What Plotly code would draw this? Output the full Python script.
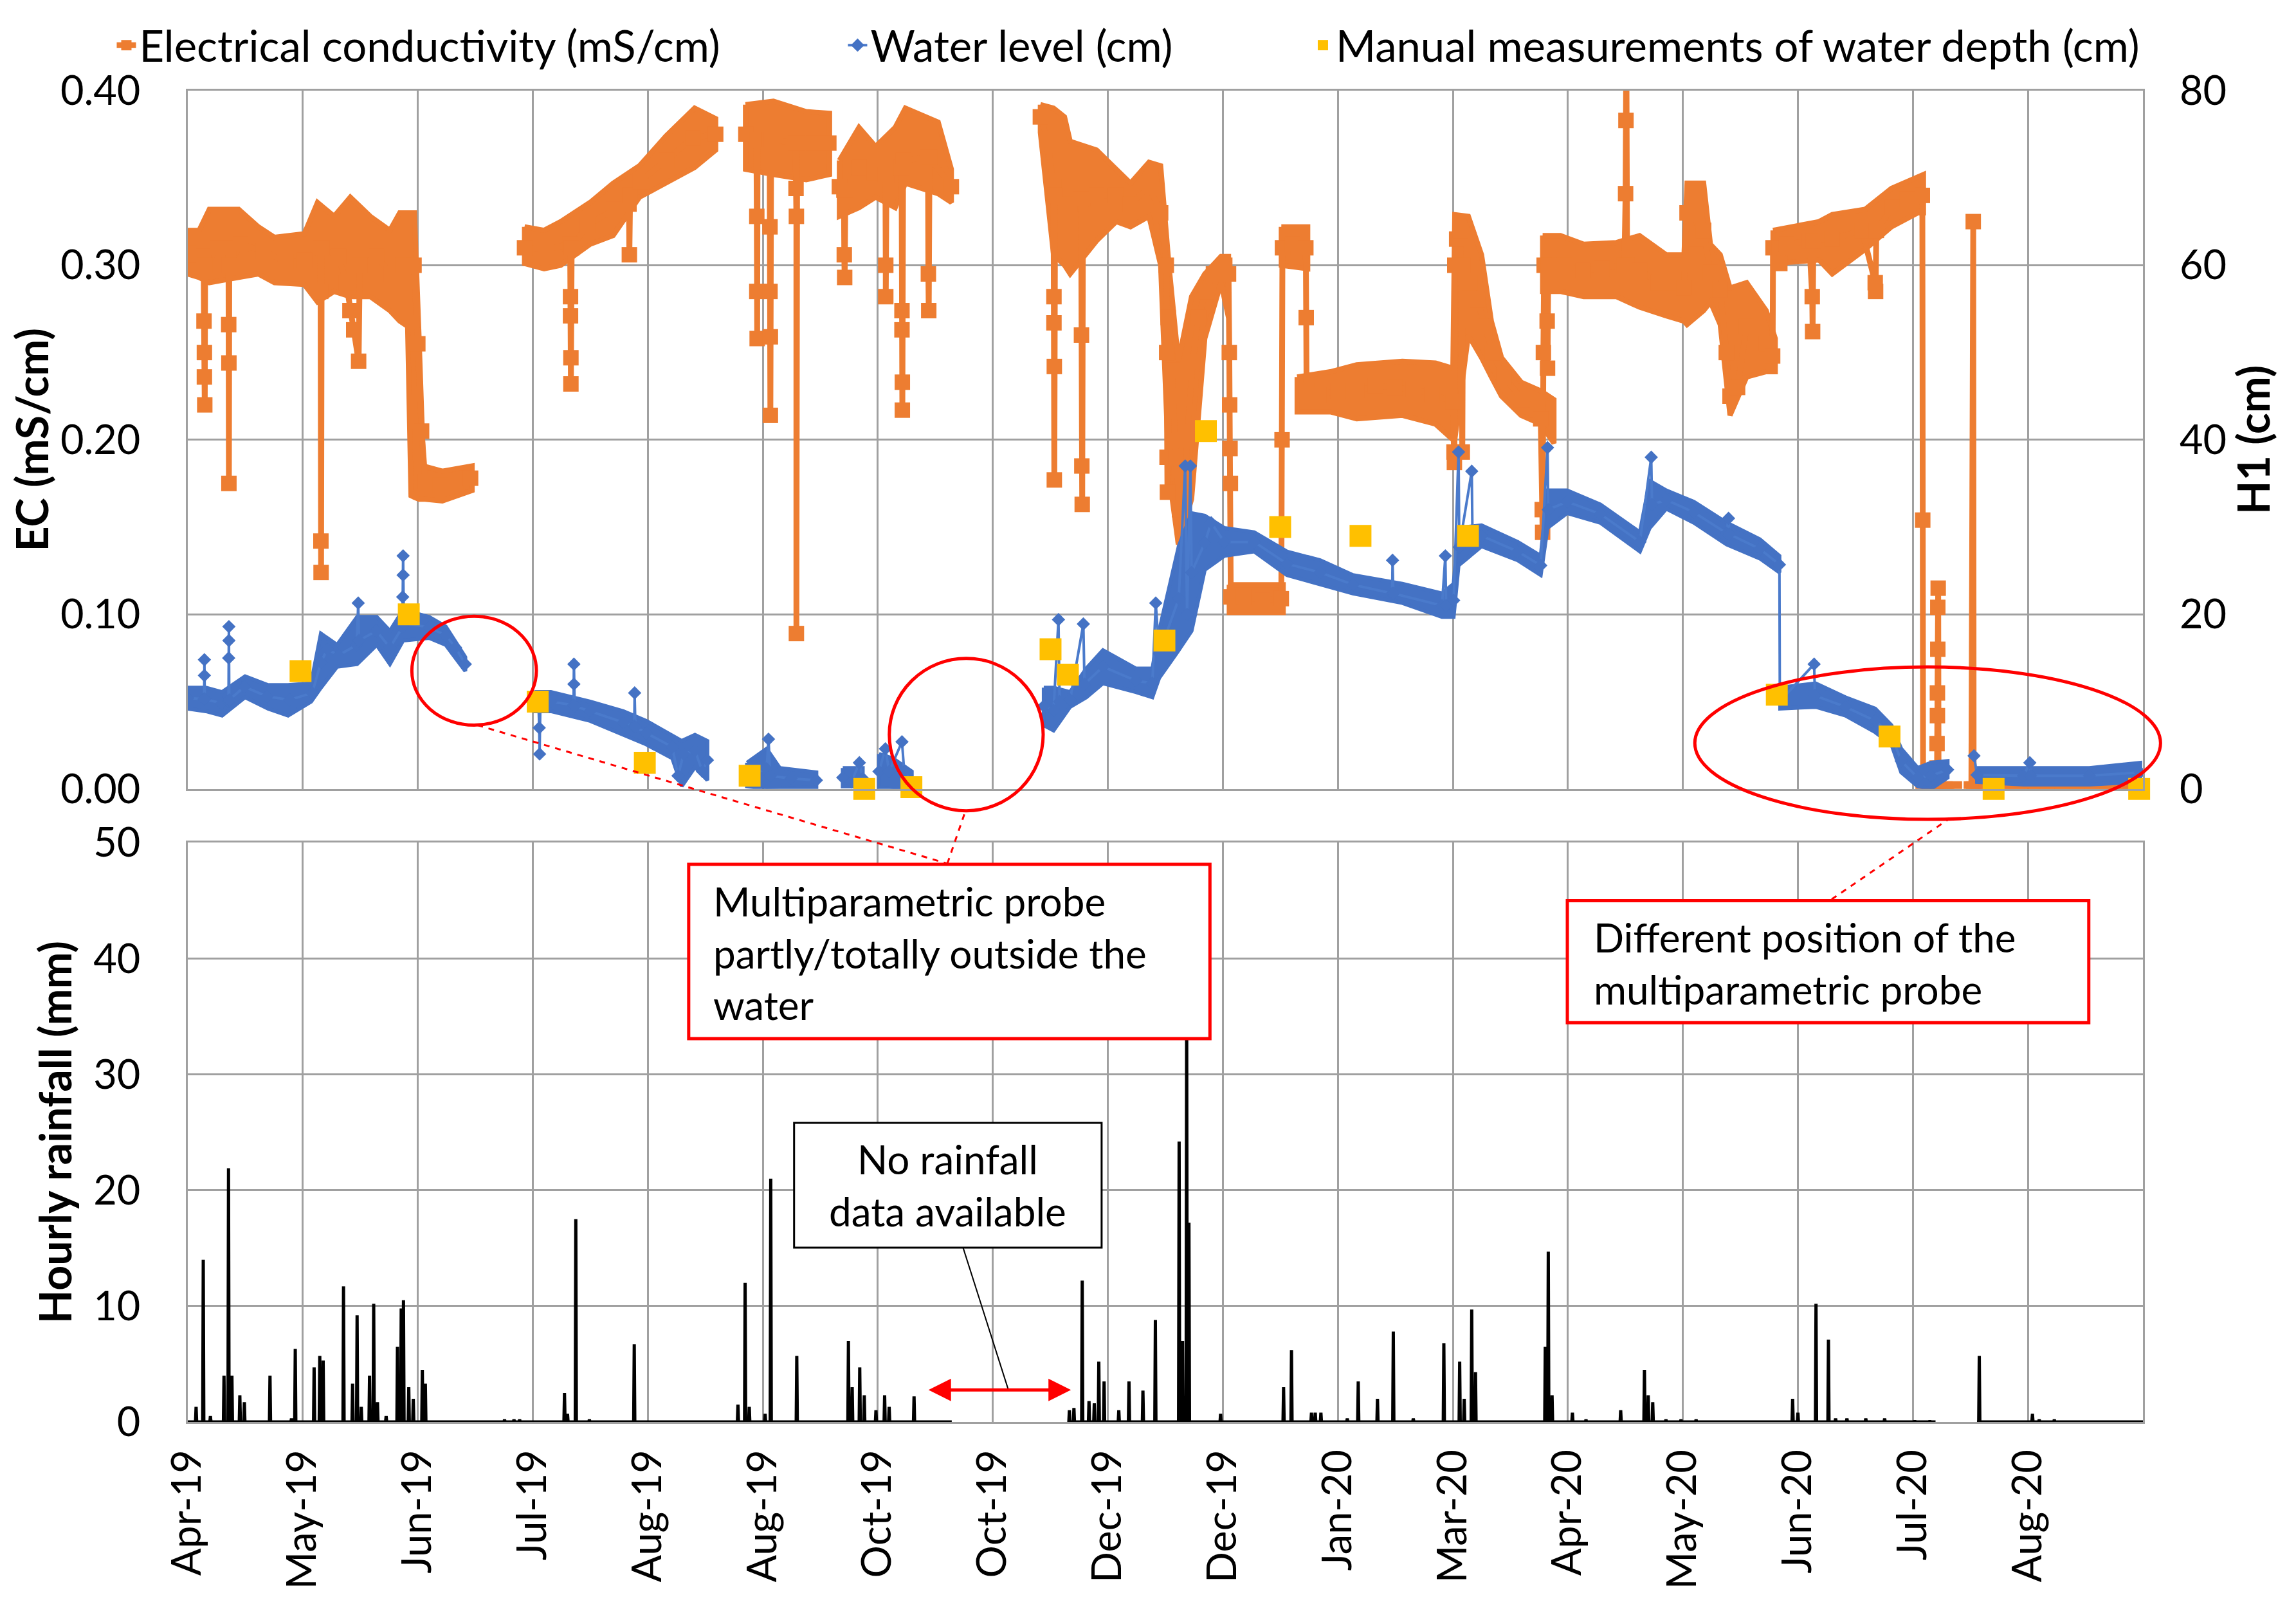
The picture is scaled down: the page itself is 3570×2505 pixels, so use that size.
import plotly.graph_objects as go
from datetime import datetime, timedelta

# day 0 of the record, and the spacing of the date labels on the axis (days)
START = datetime(2019, 4, 1)
STEP = 30.5

tick_labels = ["Apr-19", "May-19", "Jun-19", "Jul-19", "Aug-19", "Aug-19", "Oct-19", "Oct-19",
               "Dec-19", "Dec-19", "Jan-20", "Mar-20", "Apr-20", "May-20", "Jun-20", "Jul-20", "Aug-20"]

# ---- electrical conductivity (mS/cm), days since START ----
# spread of the noisy hourly signal: lower / upper envelope per stretch of record
ec_band_day = [0, 3.0, 5.7, 13.5, 18.7, 23, 30.9, 34.4, 38.8, 43.1, 48.4, 53.6, 56.2, 58.3, 59.2, 60.1, 61.3, 62.5, 67.5, 75.4, None,
               89.3, 94.5, 98.9, 106.7, 112.8, 119.8, 126.8, 134.4, 140, None,
               147.9, 155.3, 164, 170.2, None,
               172.8, 178, 182.4, 187.6, 190.3, 199, 202.5, None,
               226.1, 229.6, 232.5, 234, 241, 246.2, 250, 254.9, 258, 260.2, 262.7, 266.2, 269.7, 274, 276, None,
               276.2, 290.5, None,
               290, 297, None,
               294.2, 303, 310, 322.1, 330.9, 335.5, 336, 339.6, 343.1, 345.7, 348.4, 353.6, 358.8, 362.3, None,
               359.3, 364, 370.2, 378.9, 385, 392.1, 396.8, 397.6, 402, 403.8, 406.4, 409, 413.4, 418.6, 421, None,
               420.4, 432.6, 436.1, 444.8, 451.8, 458.8, 460.3]
ec_band_hi = [0.320, 0.320, 0.332, 0.332, 0.322, 0.316, 0.318, 0.336, 0.328, 0.339, 0.328, 0.320, 0.330, 0.330, 0.330, 0.330, 0.260, 0.185, 0.182, 0.185, None,
              0.322, 0.320, 0.325, 0.336, 0.347, 0.357, 0.374, 0.390, 0.384, None,
              0.392, 0.394, 0.388, 0.387, None,
              0.360, 0.379, 0.368, 0.379, 0.390, 0.382, 0.355, None,
              0.392, 0.390, 0.385, 0.371, 0.366, 0.355, 0.347, 0.359, 0.357, 0.300, 0.245, 0.282, 0.295, 0.305, 0.305, None,
              0.117, 0.117, None,
              0.322, 0.322, None,
              0.236, 0.239, 0.243, 0.245, 0.244, 0.241, 0.329, 0.328, 0.306, 0.268, 0.247, 0.233, 0.228, 0.223, None,
              0.317, 0.317, 0.312, 0.313, 0.317, 0.306, 0.306, 0.347, 0.347, 0.312, 0.306, 0.287, 0.290, 0.274, 0.258, None,
              0.320, 0.325, 0.329, 0.332, 0.344, 0.351, 0.352]
ec_band_lo = [0.295, 0.293, 0.290, 0.293, 0.295, 0.290, 0.289, 0.279, 0.285, 0.282, 0.282, 0.274, 0.268, 0.265, 0.168, 0.167, 0.166, 0.166, 0.165, 0.171, None,
              0.301, 0.298, 0.300, 0.312, 0.317, 0.339, 0.347, 0.356, 0.366, None,
              0.355, 0.352, 0.349, 0.352, None,
              0.328, 0.333, 0.339, 0.333, 0.347, 0.341, 0.336, None,
              0.376, 0.306, 0.300, 0.295, 0.314, 0.325, 0.322, 0.328, 0.300, 0.180, 0.140, 0.166, 0.258, 0.290, 0.270, None,
              0.101, 0.101, None,
              0.300, 0.298, None,
              0.216, 0.216, 0.212, 0.214, 0.209, 0.200, 0.200, 0.260, 0.247, 0.236, 0.225, 0.214, 0.209, 0.198, None,
              0.285, 0.285, 0.282, 0.282, 0.276, 0.271, 0.268, 0.266, 0.274, 0.279, 0.266, 0.214, 0.236, 0.239, 0.239, None,
              0.301, 0.303, 0.295, 0.309, 0.322, 0.330, 0.330]

# main path of the series with its short drops and peaks
ec_day = [0, 2, 4.2, 4.3, 4.4, 4.4, 4.5, 4.6, 8, 10.8, 10.85, 10.9, 10.9, 11.0, 14, 20, 26, 31,
          35.2, 35.25, 35.3, 35.35, 35.5, 40, 42, 43, 44, 45.3, 45.6, 50, 54, 57, 60, 61, 62, 63, 67, 71, 75, None,
          89.3, 95, 101.4, 101.5, 101.5, 101.6, 101.6, 101.8, 106, 113, 117, 117.1, 117.3, 120, 127, 134, 140, None,
          148, 150.8, 150.9, 150.9, 151, 151.1, 154.3, 154.4, 154.4, 154.5, 154.5, 154.7, 161.2, 161.3, 161.4, 161.4, 161.6, 166, 170, None,
          172.8, 174, 174.1, 174.2, 174.4, 178, 182, 185, 185.1, 185.1, 185.3, 189.3, 189.4, 189.4, 189.5, 189.5, 189.7, 196.3, 196.4, 196.5, 196.7, 202.5, None,
          226.1, 228, 229.6, 229.7, 229.7, 229.8, 229.8, 230, 234, 236.9, 237, 237.1, 237.2, 237.4, 241, 246, 250, 255, 258,
          259.5, 259.6, 259.7, 259.8, 260, 261, 262, 263, 264, 265, 266.5, 268, 270, 272, 275, 276,
          276.2, 276.3, 276.4, 276.5, 276.6, 280, 285, 290, 290.2, 290.3, 293, 296.5, 296.6, 296.7,
          300, 305, 310, 315, 320, 325, 330, 335.5, 335.8, 335.9, 336, 336.5, 337.5, 338, 338.2, 340, 342, 344, 346, 349, 354, 358, 358.8,
          359.2, 359.3, 359.5, 359.7, 360.5, 360.6, 360.8, 365, 370, 375, 381, 381.3, 381.4, 381.5, 381.7, 385, 390, 394, 396.8,
          397.6, 400, 402, 403.8, 406.4, 408, 409, 411, 413.4, 416, 418.6, 420.3, 420.4, 422.1, 422.2, 424, 430, 430.8, 430.9, 431.1,
          436, 444, 447.5, 447.6, 447.8, 452, 456, 460,
          460.1, 460.2, 462, 463.8, 463.9, 463.9, 464.0, 464.0, 464.1, 464.1, 464.2, 464.3, 466, 468.5, None,
          473, 473.5, 473.6, 477, 481, 485, 489, 493, 497, 501, 505, 509, 513, 518]
ec_val = [0.307, 0.306, 0.305, 0.268, 0.250, 0.236, 0.220, 0.300, 0.310, 0.310, 0.266, 0.244, 0.175, 0.300, 0.312, 0.308, 0.302, 0.303,
          0.310, 0.285, 0.142, 0.124, 0.310, 0.305, 0.290, 0.274, 0.263, 0.245, 0.300, 0.305, 0.295, 0.300, 0.300, 0.255, 0.205, 0.176, 0.174, 0.176, 0.178, None,
          0.310, 0.309, 0.312, 0.282, 0.271, 0.247, 0.232, 0.310, 0.323, 0.332, 0.335, 0.306, 0.340, 0.348, 0.360, 0.373, 0.375, None,
          0.375, 0.372, 0.328, 0.285, 0.258, 0.372, 0.372, 0.322, 0.285, 0.259, 0.214, 0.372, 0.370, 0.344, 0.328, 0.089, 0.370, 0.370, 0.370, None,
          0.345, 0.343, 0.306, 0.293, 0.343, 0.356, 0.353, 0.352, 0.300, 0.282, 0.352, 0.356, 0.274, 0.263, 0.233, 0.217, 0.360, 0.362, 0.295, 0.274, 0.362, 0.345, None,
          0.385, 0.372, 0.345, 0.282, 0.267, 0.242, 0.177, 0.340, 0.335, 0.338, 0.260, 0.185, 0.163, 0.338, 0.340, 0.340, 0.335, 0.345, 0.330,
          0.300, 0.250, 0.190, 0.170, 0.270, 0.240, 0.190, 0.160, 0.145, 0.200, 0.245, 0.270, 0.285, 0.295, 0.300, 0.295,
          0.250, 0.220, 0.195, 0.175, 0.110, 0.110, 0.108, 0.109, 0.200, 0.310, 0.312, 0.310, 0.270, 0.228,
          0.226, 0.228, 0.228, 0.231, 0.230, 0.229, 0.226, 0.222, 0.193, 0.187, 0.300, 0.315, 0.320, 0.193, 0.300, 0.290, 0.280, 0.265, 0.250, 0.236, 0.223, 0.217, 0.212,
          0.160, 0.147, 0.250, 0.300, 0.268, 0.241, 0.300, 0.300, 0.297, 0.298, 0.300, 0.341, 0.383, 0.430, 0.300, 0.297, 0.290, 0.290, 0.287,
          0.330, 0.315, 0.320, 0.296, 0.286, 0.250, 0.225, 0.230, 0.265, 0.260, 0.255, 0.248, 0.310, 0.310, 0.301, 0.312, 0.314, 0.282, 0.262, 0.314,
          0.315, 0.320, 0.290, 0.285, 0.320, 0.333, 0.338, 0.340,
          0.154, 0.0, 0.0, 0.0, 0.012, 0.026, 0.042, 0.055, 0.080, 0.104, 0.115, 0.0, 0.0, 0.0, None,
          0.0, 0.325, 0.0, 0.0, 0.0, 0.0, 0.0, 0.0, 0.0, 0.0, 0.0, 0.0, 0.0, 0.0]

# ---- water level H1 (cm) ----
wl_band_day = [0, 4.8, 9.1, 15.2, 21.3, 26.6, 32.7, 35.3, 39.6, 44.9, 50.1, 53.6, 57.1, 64, 68.4, 73.6, None,
               91.9, 96.3, 106.7, 115.5, 121.6, 128.5, 131, 134.5, 137.8, None,
               148.3, 153.5, 157, 166.7, None,
               173.7, 179, None,
               183.3, 187, 192, None,
               227, 229.6, 234, 238.3, 242.7, 251.4, 255.8, 257.6, 262.8, 266.2, 269.7, 274.9, 282.8, 291.5, 300.3, 309, 322.1,
               332.6, 335.7, 337, 343.1, 352.7, 358.8, 360.6, 365.8, 374.6, 385.1, 387.7, 392.1, 399.4, 408.1, 416.9, 422.1, None,
               422.3, 431.7, 439.6, 447.5, 451.8, 454.4, 458.8, 462.3, 466.7, None,
               474.5, 486.8, 504.3, 517.8]
wl_band_hi = [11.6, 11.6, 11.1, 12.9, 11.9, 11.9, 12.1, 17.8, 16.5, 19.7, 19.7, 18.1, 20.5, 19.7, 18.6, 15.1, None,
              11.1, 11.1, 10.0, 8.9, 7.8, 6.2, 5.5, 6.2, 5.5, None,
              3.0, 4.6, 2.4, 1.9, None,
              2.4, 2.4, None,
              4.0, 3.5, 2.0, None,
              11.6, 11.6, 11.1, 13.8, 15.9, 13.8, 13.8, 18.1, 27.8, 31.6, 31.3, 29.9, 29.4, 27.2, 26.2, 24.5, 23.5,
              22.4, 23.5, 29.9, 30.2, 28.3, 26.7, 34.2, 34.2, 32.6, 29.4, 35.3, 34.2, 32.9, 30.5, 28.6, 26.7, None,
              11.6, 12.1, 10.5, 9.2, 7.3, 4.6, 2.4, 3.0, 3.2, None,
              2.4, 2.4, 2.4, 3.0]
wl_band_lo = [9.2, 8.9, 8.4, 10.5, 9.2, 8.4, 10.0, 11.6, 14.0, 14.3, 16.5, 14.3, 17.0, 17.3, 16.5, 13.5, None,
              8.9, 8.9, 7.8, 6.2, 5.1, 3.5, 0.3, 2.5, 1.0, None,
              0.3, 0.0, 0.0, 0.2, None,
              0.3, 0.3, None,
              0.2, 0.0, 0.0, None,
              7.3, 6.7, 9.4, 10.5, 12.1, 11.1, 10.5, 12.7, 15.9, 18.1, 25.1, 26.7, 27.2, 24.5, 23.5, 22.4, 21.3,
              19.7, 19.7, 25.6, 27.8, 26.2, 24.5, 29.9, 31.6, 30.5, 27.2, 29.9, 32.1, 30.5, 28.0, 26.4, 24.8, None,
              9.2, 9.4, 8.4, 6.5, 5.1, 1.9, 0.3, 0.0, 1.3, None,
              0.8, 0.5, 0.5, 0.8]

wl_day = [0, 4.3, 4.4, 4.4, 4.5, 9, 10.8, 10.85, 10.9, 10.9, 11, 15, 21, 27, 33, 35.3, 37, 40, 44.8, 45.2, 45.4, 50,
          53.6, 56.9, 57, 57.1, 57.1, 57.3, 64, 68.4, 71, 73.6, None,
          92, 93, 93.2, 93.3, 93.5, 96.3, 102.3, 102.4, 102.4, 102.6, 106.7, 115.5, 118.4, 118.5, 118.7, 121.6, 128.5,
          130, 131.5, 134.5, 136.5, 137.8, None,
          148.3, 153.5, 154, 154.5, 160, 166.7, None,
          173.7, 176, 178.1, 179, None,
          183.3, 185, 186, 189.4, 190, 192, None,
          227, 229.6, 230.9, 231.2, 234, 237.5, 237.8, 242.7, 251.4, 255.8, 256.7, 257.6, 262.8, 264.5, 265, 265.9, 266.2,
          269.7, 271.4, 274.9, 282.8, 291.5, 300.3, 309, 319.4, 319.5, 319.7, 332.6, 333.5, 333.7, 335.7, 337, 337.2,
          340.5, 340.7, 343.1, 352.7, 358.8, 360.6, 360.8, 365.8, 374.6, 385.1, 388.1, 388.3, 392.1, 399.4, 408.1, 408.6,
          408.8, 416.9, 422.1, 422.2, 423, 431.3, 431.5, 439.6, 447.5, 451.8, 454.4, 458.8, 462.3, 466.7, None,
          473.7, 474.5, 486.8, 488.5, 488.7, 504.3, 517.8]
wl_cm = [10.4, 10.3, 13, 14.8, 10.3, 9.8, 10, 15, 17, 18.6, 10.2, 11.7, 10.6, 10.2, 11, 14.5, 16, 15.3, 16.5, 21.3, 17, 18.1,
         16.2, 18.5, 22, 24.5, 26.7, 19, 18.5, 17.6, 16.2, 14.3, None,
         10, 9.8, 7, 4, 9.8, 10, 9.6, 12, 14.3, 9.5, 8.9, 7.6, 7.2, 11, 7.1, 6.4, 4.8,
         1.5, 4, 4.4, 2, 3.3, None,
         1.5, 2.3, 5.7, 1.5, 1.2, 1.0, None,
         1.3, 0.8, 3, 1.2, None,
         2, 4.6, 2, 5.4, 2, 0.8, None,
         9.5, 9, 19.4, 10, 10.2, 18.9, 12, 14, 12.4, 12.1, 21.3, 15.5, 21.8, 37, 20, 37, 24.8,
         28.2, 30.5, 28.3, 28.3, 25.8, 24.8, 23.4, 22.4, 26.2, 22.4, 21, 26.7, 21, 21.6, 38.6, 27.7,
         36.4, 29, 29, 27.2, 25.6, 39.1, 32, 32.9, 31.5, 28.3, 38, 32.6, 33.1, 31.7, 29.3, 31,
         29.2, 27.5, 25.7, 11, 10.4, 14.3, 10.7, 9.4, 7.8, 6.2, 3.2, 1.3, 1.5, 2.2, None,
         3.8, 1.6, 1.5, 3, 1.5, 1.5, 1.9]

# ---- manual water depth readings (cm) ----
manual_day = [29.9, 58.6, 92.8, 121.2, 149, 179.4, 191.9, 228.8, 233.4, 259, 270, 289.7, 311, 339.5, 421.4, 451.3, 478.9, 517.5]
manual_cm = [13.5, 20, 10, 3.0, 1.5, 0, 0.2, 16, 13.1, 17, 41, 30, 29, 29, 10.8, 6, 0, 0]

# ---- hourly rainfall (mm): rainy hours and the periods the gauge was recording ----
rain_day = [2.2, 4.1, 6.0, 9.6, 10.8, 11.7, 13.8, 15.0, 21.8, 27.5, 28.5, 33.5, 35.0, 35.9, 41.3, 43.7, 44.9, 46.0,
            48.2, 49.3, 50.3, 52.6, 55.6, 56.6, 57.2, 58.6, 59.8, 62.2, 63.0, 84.0, 86.5, 88.0, 99.9, 100.7, 102.9,
            106.5, 118.4, 145.9, 147.8, 148.9, 153.1, 154.6, 161.5, 175.2, 176.2, 178.2, 179.4, 182.5, 184.8, 186.0, 192.6,
            233.8, 235.0, 237.2, 239.0, 240.4, 241.6, 243.0, 246.9, 249.6, 253.3, 256.6, 262.9, 263.8, 264.9, 265.5,
            273.9, 290.6, 292.7, 298.0, 299.0, 300.5, 307.5, 310.4, 315.5, 319.7, 325.0, 333.1, 337.3, 338.5, 340.5,
            341.5, 360.0, 360.8, 361.8, 367.2, 370.8, 380.0, 386.3, 387.3, 388.5, 392.0, 396.0, 400.0, 425.6, 427.0,
            431.8, 435.1, 437.0, 440.0, 445.0, 450.0, 458.0, 462.0, 475.1, 489.2, 491.0, 495.0]
rain_mm = [1.3, 14.0, 0.5, 4.0, 21.9, 4.0, 2.3, 1.7, 4.0, 0.3, 6.3, 4.7, 5.7, 5.3, 11.7, 3.3, 9.2, 1.3,
           4.0, 10.2, 1.7, 0.5, 6.5, 9.8, 10.5, 3.0, 2.0, 4.5, 3.3, 0.2, 0.2, 0.2, 2.5, 0.7, 17.5,
           0.2, 6.7, 1.5, 12.0, 1.3, 0.7, 21.0, 5.7, 7.0, 3.0, 4.7, 2.3, 1.0, 2.3, 1.3, 2.2,
           1.0, 1.2, 12.2, 1.8, 1.6, 5.2, 3.5, 1.0, 3.5, 2.7, 8.8, 24.2, 7.0, 36.0, 17.2,
           0.7, 3.0, 6.2, 0.8, 0.8, 0.8, 0.3, 3.5, 2.0, 7.8, 0.3, 6.8, 5.2, 2.0, 9.7,
           4.3, 6.5, 14.7, 2.3, 0.8, 0.2, 1.0, 4.5, 2.3, 1.7, 0.2, 0.2, 0.2, 2.0, 0.8,
           10.2, 7.1, 0.3, 0.3, 0.3, 0.3, 0.1, 0.1, 5.7, 0.7, 0.2, 0.2]
rain_start = [0, 233.7, 474.5]
rain_end = [202.6, 463.5, 518.5]

assert len(ec_day) == len(ec_val)
assert len(ec_band_day) == len(ec_band_hi) == len(ec_band_lo)
assert len(wl_day) == len(wl_cm)
assert len(wl_band_day) == len(wl_band_hi) == len(wl_band_lo)
assert len(rain_day) == len(rain_mm)


def to_dt(days):
    return [None if d is None else (START + timedelta(days=d)).strftime("%Y-%m-%d %H:%M:%S") for d in days]


def band(days, lo, hi):
    # closed outline of each stretch: upper edge forward, lower edge back
    xs, ys = [], []
    seg = []
    for d, l, h in list(zip(days, lo, hi)) + [(None, None, None)]:
        if d is None:
            if seg:
                xs += [s[0] for s in seg] + [s[0] for s in seg[::-1]] + [seg[0][0], None]
                ys += [s[2] for s in seg] + [s[1] for s in seg[::-1]] + [seg[0][2], None]
            seg = []
        else:
            seg.append((d, l, h))
    return to_dt(xs), ys


rx, ry = [], []
for s, e in zip(rain_start, rain_end):
    rx.append(s)
    ry.append(0)
    for d, v in zip(rain_day, rain_mm):
        if s <= d <= e:
            rx += [d - 0.15, d, d + 0.15]
            ry += [0, v, 0]
    rx += [e, None]
    ry += [0, None]

ORANGE = "#ED7D31"
BLUE = "#4472C4"
YELLOW = "#FFC000"
GRID = "#a0a0a0"
FONT = "Lato"

fig = go.Figure()

bx, by = band(ec_band_day, ec_band_lo, ec_band_hi)
fig.add_trace(go.Scatter(x=bx, y=by, mode="lines", fill="toself", fillcolor=ORANGE,
                         line=dict(color=ORANGE, width=8), showlegend=False, hoverinfo="skip",
                         xaxis="x", yaxis="y"))
fig.add_trace(go.Scatter(x=to_dt(ec_day), y=ec_val, mode="lines+markers",
                         name="Electrical conductivity (mS/cm)", legend="legend",
                         line=dict(color=ORANGE, width=9),
                         marker=dict(symbol="square", size=24, color=ORANGE),
                         xaxis="x", yaxis="y"))

bx, by = band(wl_band_day, wl_band_lo, wl_band_hi)
fig.add_trace(go.Scatter(x=bx, y=by, mode="lines", fill="toself", fillcolor=BLUE,
                         line=dict(color=BLUE, width=6), showlegend=False, hoverinfo="skip",
                         xaxis="x", yaxis="y2"))
fig.add_trace(go.Scatter(x=to_dt(wl_day), y=wl_cm, mode="lines+markers", name="Water level (cm)",
                         legend="legend2",
                         line=dict(color="#4a7acb", width=4),
                         marker=dict(symbol="diamond", size=16, color=BLUE),
                         xaxis="x", yaxis="y2"))

fig.add_trace(go.Scatter(x=to_dt(manual_day), y=manual_cm, mode="markers",
                         name="Manual measurements of water depth (cm)", legend="legend3",
                         marker=dict(symbol="square", size=34, color=YELLOW),
                         cliponaxis=False, xaxis="x", yaxis="y2"))

fig.add_trace(go.Scatter(x=to_dt(rx), y=ry, mode="lines", line=dict(color="black", width=5),
                         showlegend=False, xaxis="x2", yaxis="y3"))

x_range = to_dt([0, 17 * STEP])
x_ticks = to_dt([k * STEP for k in range(len(tick_labels))])

axis_common = dict(showgrid=True, gridcolor=GRID, gridwidth=3, showline=True, linecolor=GRID,
                   linewidth=3, mirror=True, ticks="", zeroline=False,
                   tickfont=dict(family=FONT, size=63, color="black"))

legend_common = dict(orientation="h", xanchor="left", y=1.034, yanchor="middle",
                     font=dict(family=FONT, size=67, color="black"), bgcolor="rgba(0,0,0,0)")

fig.update_layout(
    width=3570, height=2505,
    margin=dict(l=284, r=246, t=114, b=302),
    template="none",
    plot_bgcolor="white", paper_bgcolor="white",
    font=dict(family=FONT, color="black"),
    xaxis=dict(domain=[0, 1], anchor="y", type="date", range=x_range, tickvals=x_ticks,
               showticklabels=False, **axis_common),
    yaxis=dict(domain=[0.4755, 1], anchor="x", range=[0, 0.4], tickvals=[0, 0.1, 0.2, 0.3, 0.4],
               tickformat=".2f", ticklabelstandoff=58,
               title=dict(text="<b>EC (mS/cm)</b>", font=dict(family=FONT, size=68), standoff=15),
               **axis_common),
    yaxis2=dict(overlaying="y", side="right", anchor="x", range=[0, 80], tickvals=[0, 20, 40, 60, 80],
                showgrid=False, showline=False, zeroline=False, ticks="", ticklabelstandoff=56,
                tickfont=dict(family=FONT, size=63, color="black"),
                title=dict(text="<b>H1 (cm)</b>", font=dict(family=FONT, size=68), standoff=20)),
    xaxis2=dict(domain=[0, 1], anchor="y3", type="date", range=x_range, tickvals=x_ticks,
                ticktext=tick_labels, tickangle=-90, ticklabelstandoff=15, **axis_common),
    yaxis3=dict(domain=[0, 0.4351], anchor="x2", range=[0, 50], tickvals=[0, 10, 20, 30, 40, 50],
                ticklabelstandoff=58,
                title=dict(text="<b>Hourly rainfall (mm)</b>", font=dict(family=FONT, size=68), standoff=12),
                **axis_common),
    legend=dict(x=-0.038, **legend_common),
    legend2=dict(x=0.336, **legend_common),
    legend3=dict(x=0.574, **legend_common),
    showlegend=True,
)

RED = "#FF0000"
shapes = [
    # ellipses marking the periods discussed in the notes
    dict(type="circle", x0=0.1146, x1=0.1783, y0=0.5234, y1=0.6052),
    dict(type="circle", x0=0.3588, x1=0.4375, y0=0.4591, y1=0.5736),
    dict(type="circle", x0=0.7708, x1=1.0090, y0=0.4526, y1=0.5671),
]
for s in shapes:
    s.update(xref="paper", yref="paper", line=dict(color=RED, width=5))
shapes += [
    dict(type="line", xref="paper", yref="paper", x0=0.1481, y0=0.5234, x1=0.3885, y1=0.4194,
         line=dict(color=RED, width=3, dash="dash")),
    dict(type="line", xref="paper", yref="paper", x0=0.3885, y0=0.4194, x1=0.3978, y1=0.4591,
         line=dict(color=RED, width=3, dash="dash")),
    dict(type="line", xref="paper", yref="paper", x0=0.8408, y0=0.3926, x1=0.9004, y1=0.4526,
         line=dict(color=RED, width=3, dash="dash")),
    dict(type="line", xref="paper", yref="paper", x0=0.3966, y0=0.1306, x1=0.4196, y1=0.0246,
         line=dict(color="black", width=2)),
    dict(type="rect", xref="paper", yref="paper", x0=0.2562, x1=0.5228, y0=0.2879, y1=0.4188,
         fillcolor="white", line=dict(color=RED, width=5)),
    dict(type="rect", xref="paper", yref="paper", x0=0.7056, x1=0.9723, y0=0.2999, y1=0.3915,
         fillcolor="white", line=dict(color=RED, width=5)),
    dict(type="rect", xref="paper", yref="paper", x0=0.3101, x1=0.4674, y0=0.1309, y1=0.2246,
         fillcolor="white", line=dict(color="black", width=3)),
]
fig.update_layout(shapes=shapes)

note_font = dict(family=FONT, size=62, color="black")
fig.add_annotation(x=0.2682, y=0.3522, xref="paper", yref="paper", xanchor="left", yanchor="middle",
                   align="left", showarrow=False, font=note_font,
                   text="Multiparametric probe<br>partly/totally outside the<br>water")
fig.add_annotation(x=0.7184, y=0.3446, xref="paper", yref="paper", xanchor="left", yanchor="middle",
                   align="left", showarrow=False, font=note_font,
                   text="Different position of the<br>multiparametric probe")
fig.add_annotation(x=0.3888, y=0.1778, xref="paper", yref="paper", xanchor="center", yanchor="middle",
                   align="center", showarrow=False, font=note_font,
                   text="No rainfall<br>data available")
# double arrow over the gap in the rain record
fig.add_annotation(x=0.4517, y=0.024, xref="paper", yref="paper", ax=-223, ay=0, text="",
                   showarrow=True, arrowhead=2, arrowside="end+start", arrowsize=1.4,
                   arrowwidth=5, arrowcolor=RED, standoff=0, startstandoff=0)

fig.write_html("out.html")
